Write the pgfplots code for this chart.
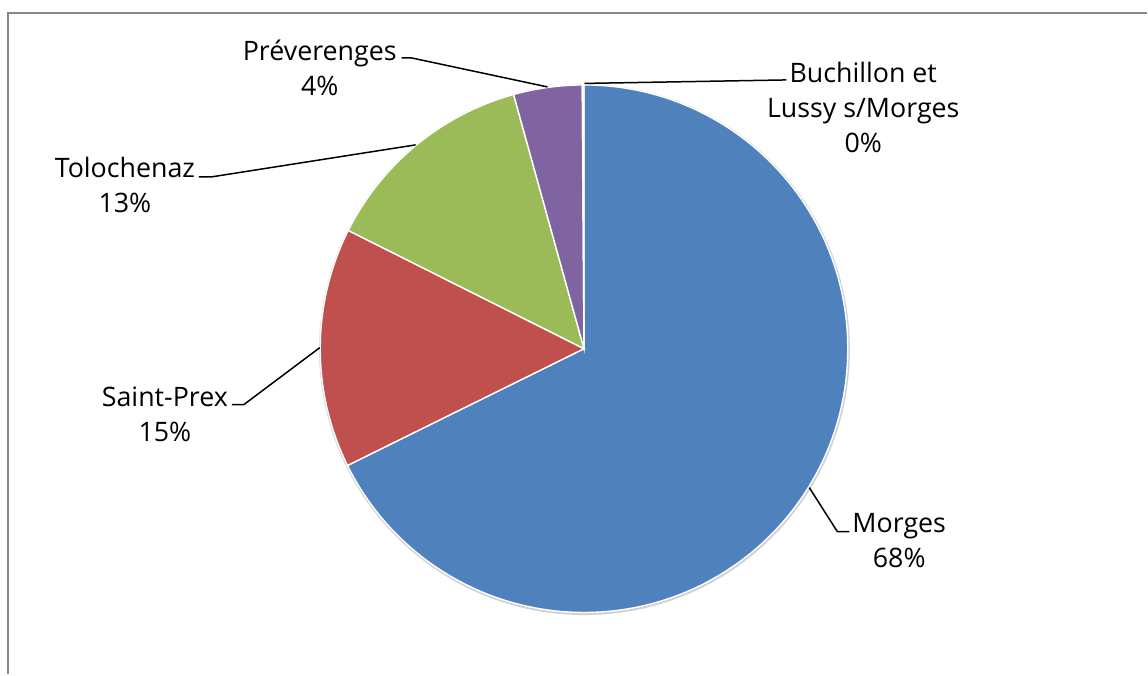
\documentclass[border=0pt]{standalone}
\usepackage{fontspec}
\setmainfont{Open Sans}
\usepackage{pgfplots}
\usepackage{pgfplotstable}
\pgfplotsset{compat=1.18}

\definecolor{pieblue}{HTML}{4F81BD}
\definecolor{piered}{HTML}{C0504D}
\definecolor{piegreen}{HTML}{9BBB59}
\definecolor{piepurple}{HTML}{8064A2}
\definecolor{pieaqua}{HTML}{4BACC6}
\definecolor{framegray}{HTML}{868686}

\pgfplotstableread[col sep=comma]{
name,value
Morges,67.7
SaintPrex,14.7
Tolochenaz,13.3
Preverenges,4.2
Buchillon,0.1
}\piedata

\begin{document}
\begin{tikzpicture}
\pgfplotstablegetelem{0}{value}\of\piedata \pgfmathsetmacro\aA{90-3.6*\pgfplotsretval}
\pgfplotstablegetelem{1}{value}\of\piedata \pgfmathsetmacro\aB{\aA-3.6*\pgfplotsretval}
\pgfplotstablegetelem{2}{value}\of\piedata \pgfmathsetmacro\aC{\aB-3.6*\pgfplotsretval}
\pgfplotstablegetelem{3}{value}\of\piedata \pgfmathsetmacro\aD{\aC-3.6*\pgfplotsretval}
\pgfplotstablegetelem{4}{value}\of\piedata \pgfmathsetmacro\aE{\aD-3.6*\pgfplotsretval}
\begin{axis}[
  x=0.5pt, y=0.5pt,
  xmin=0, xmax=1148, ymin=0, ymax=675,
  hide axis,
  clip=false,
]
% invisible extent
\path (axis cs:0,0) rectangle (axis cs:1148,675);
% frame (left and top edges visible)
\draw[framegray, line width=1pt] (axis cs:8.5,0) -- (axis cs:8.5,662) -- (axis cs:1148,662);
% faint shadow
\fill[black!18] (axis cs:585,325) circle[radius=132.8pt];
% slices
\fill[pieblue, draw=white, line width=0.7pt] (axis cs:584.5,326) -- ++(90:132pt) arc[start angle=90, end angle=\aA, radius=132pt] -- cycle;
\fill[piered, draw=white, line width=0.7pt] (axis cs:584.5,326) -- ++(\aA:132pt) arc[start angle=\aA, end angle=\aB, radius=132pt] -- cycle;
\fill[piegreen, draw=white, line width=0.7pt] (axis cs:584.5,326) -- ++(\aB:132pt) arc[start angle=\aB, end angle=\aC, radius=132pt] -- cycle;
\fill[piepurple, draw=white, line width=0.7pt] (axis cs:584.5,326) -- ++(\aC:132pt) arc[start angle=\aC, end angle=\aD, radius=132pt] -- cycle;
\fill[pieaqua, draw=white, line width=0.7pt] (axis cs:584.5,326) -- ++(\aD:132pt) arc[start angle=\aD, end angle=\aE, radius=132pt] -- cycle;
% leader lines
\draw[black, line width=0.75pt] (axis cs:810,187) -- (axis cs:838,143) -- (axis cs:850,143);
\draw[black, line width=0.75pt] (axis cs:232,270) -- (axis cs:244,270) -- (axis cs:320,327);
\draw[black, line width=0.75pt] (axis cs:199,498) -- (axis cs:212,498) -- (axis cs:416,530);
\draw[black, line width=0.75pt] (axis cs:402,617) -- (axis cs:412,617) -- (axis cs:548,588);
\draw[black, line width=0.75pt] (axis cs:585,591.5) -- (axis cs:787,595);
% labels
\tikzset{lbl/.style={align=center, inner sep=0pt, font=\fontsize{13.4pt}{17.5pt}\selectfont}}
\node[lbl] at (axis cs:900,133.5) {Morges\\68\%};
\node[lbl] at (axis cs:165,260.5) {Saint-Prex\\15\%};
\node[lbl] at (axis cs:125,489.5) {Tolochenaz\\13\%};
\node[lbl] at (axis cs:320,607.5) {Préverenges\\4\%};
\node[lbl] at (axis cs:864,567.5) {Buchillon et\\Lussy s/Morges\\0\%};
\end{axis}
\end{tikzpicture}
\end{document}
